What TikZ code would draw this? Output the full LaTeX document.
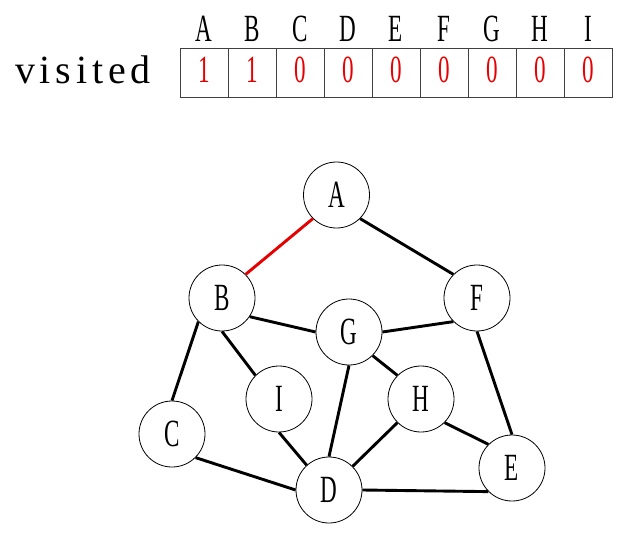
\documentclass[tikz,border=0pt]{standalone}
\usepackage{fontspec}
\setmainfont{Liberation Serif}
\newfontfamily\visf[LetterSpace=12]{Liberation Serif}
\usepackage{graphicx}
\newcommand{\glab}[1]{\scalebox{0.6}[1]{\fontsize{38.5}{40}\selectfont #1}}
\definecolor{vred}{RGB}{230,0,0}
\begin{document}
\begin{tikzpicture}[x=1pt,y=-1pt,
  vertex/.style={circle,draw=black,line width=0.8pt,minimum size=66pt,inner sep=0pt,fill=white},
  edge/.style={line width=2.9pt,black},
  redge/.style={line width=2.9pt,vred},
  cell/.style={draw=black!75,line width=0.8pt,minimum width=48pt,minimum height=48.5pt,inner sep=0pt,anchor=north west},
  digit/.style={inner sep=0pt,text=vred},
  head/.style={inner sep=0pt}]
\useasboundingbox (0,0) rectangle (632,533);
% table
\foreach \i/\l/\v in {0/A/1,1/B/1,2/C/0,3/D/0,4/E/0,5/F/0,6/G/0,7/H/0,8/I/0}{
  \node[cell] (c\l) at ({180+48*\i},48.3) {};
  \node[digit] (v\l) at ({204+48*\i},70) {\glab{\v}};
  \node[head] (h\l) at ({204+48*\i},28.7) {\glab{\l}};
}
\node[inner sep=0pt,anchor=base west] (vis) at (15,83.3) {\fontsize{40}{42}\visf visited};
% graph
\node[vertex] (A) at (336.5,195) {\glab{A}};
\node[vertex] (B) at (222,298) {\glab{B}};
\node[vertex] (F) at (477,298) {\glab{F}};
\node[vertex] (G) at (349,332) {\glab{G}};
\node[vertex] (I) at (279,399) {\glab{I}};
\node[vertex] (H) at (421,399) {\glab{H}};
\node[vertex] (C) at (172,434) {\glab{C}};
\node[vertex] (D) at (329,490) {\glab{D}};
\node[vertex] (E) at (512,468) {\glab{E}};
\draw[redge] (A.225) -- (B.45);
\draw[edge] (A.315) -- (F.135);
\draw[edge] (B.326) -- (G.west);
\draw[edge] (G.east) -- (F.225);
\draw[edge] (B.225) -- (C.north);
\draw[edge] (B.south) -- (I.135);
\draw[edge] (G.315) -- (H.135);
\draw[edge] (G.south) -- (D.north);
\draw[edge] (F.south) -- (E.north);
\draw[edge] (I.south) -- (D.132);
\draw[edge] (C.315) -- (D.west);
\draw[edge] (H.225) -- (D.45);
\draw[edge] (H.315) -- (E.135);
\draw[edge] (D.east) -- (E.225);
\end{tikzpicture}
\end{document}
